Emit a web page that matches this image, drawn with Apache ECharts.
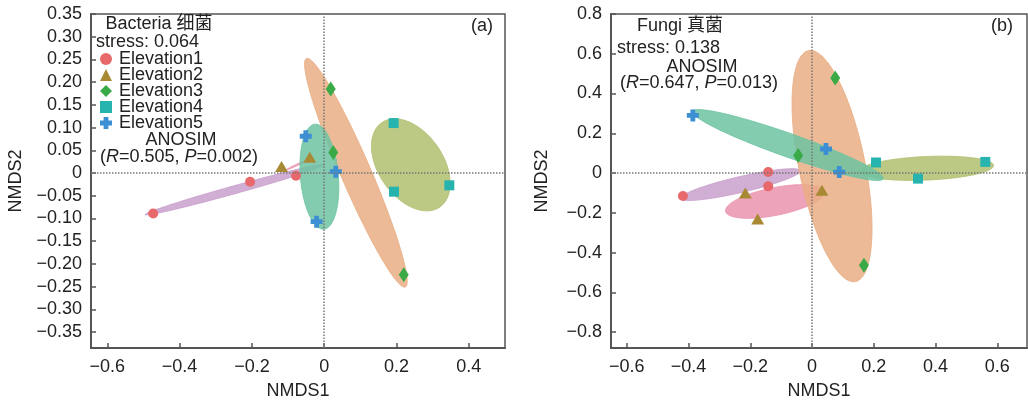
<!DOCTYPE html>
<html>
<head>
<meta charset="utf-8">
<script src="https://cdn.jsdelivr.net/npm/echarts@6/dist/echarts.min.js"></script>
<style>
  html, body { margin: 0; padding: 0; background: #fff; }
  #chart { width: 1028px; height: 405px; }
</style>
</head>
<body>
<div id="chart"></div>
<script>
// 分组名称
const groups = ['Elevation1', 'Elevation2', 'Elevation3', 'Elevation4', 'Elevation5'];

// (a) 细菌 NMDS 坐标
const bactE1 = [[-0.473, -0.089], [-0.205, -0.019], [-0.078, -0.006]];
const bactE2 = [[-0.118, 0.0145], [-0.040, 0.035]];
const bactE3 = [[0.018, 0.185], [0.025, 0.045], [0.220, -0.224]];
const bactE4 = [[0.192, 0.110], [0.193, -0.041], [0.346, -0.027]];
const bactE5 = [[-0.051, 0.081], [0.032, 0.003], [-0.021, -0.107]];

// (b) 真菌 NMDS 坐标
const fungE1 = [[-0.418, -0.115], [-0.142, 0.005], [-0.142, -0.067]];
const fungE2 = [[-0.216, -0.100], [-0.176, -0.231], [0.032, -0.087]];
const fungE3 = [[0.075, 0.478], [-0.045, 0.088], [0.168, -0.464]];
const fungE4 = [[0.207, 0.053], [0.343, -0.028], [0.561, 0.056]];
const fungE5 = [[-0.386, 0.290], [0.045, 0.121], [0.088, 0.005]];

// 置信椭圆：[中心x, 中心y, 半径向量1 x, y, 半径向量2 x, y]
const bactEllipses = [
  [-0.2467, -0.0364, 0.2486, 0.0551, 0.003, -0.0084],
  [-0.075, 0.018, 0.030, 0.011, 0.0009, -0.0016],
  [0.0876, 0.0007, 0.1367, -0.2516, 0.0381, 0.0129],
  [0.2395, 0.0181, 0.0796, -0.0932, 0.0743, 0.0397],
  [-0.0133, -0.008, 0.0124, -0.1155, 0.0522, 0.0035]
];
const fungEllipses = [
  [-0.232, -0.058, 0.194, 0.0698, 0.0058, -0.0389],
  [-0.120, -0.143, 0.160, 0.0499, 0.0091, -0.0683],
  [0.0647, 0.0349, 0.0699, -0.5818, 0.109, 0],
  [0.371, 0.0239, 0.2168, 0.014, 0, -0.0593],
  [-0.0783, 0.141, 0.309, -0.1695, 0.0128, 0.0553]
];

// 刻度
const bactXTicks = [-0.6, -0.4, -0.2, 0, 0.2, 0.4];
const bactYTicks = [-0.35, -0.30, -0.25, -0.20, -0.15, -0.10, -0.05, 0, 0.05, 0.10, 0.15, 0.20, 0.25, 0.30, 0.35];
const fungXTicks = [-0.6, -0.4, -0.2, 0, 0.2, 0.4, 0.6];
const fungYTicks = [-0.8, -0.6, -0.4, -0.2, 0, 0.2, 0.4, 0.6, 0.8];

const pointColors = ['#e8696b', '#a88a34', '#3aaa47', '#28b4ae', '#3b8fd2'];
const ellipseColors = ['#c9a0cc', '#ea93ae', '#e9ae84', '#b0c070', '#6dc3a2'];
const symbols = ['circle', 'triangle', 'diamond', 'rect', 'path://M3,0H7V3H10V7H7V10H3V7H0V3H3Z'];
const symbolSizes = [10, [13, 11], [10, 15], 10, 12];

const FONT = 'Liberation Sans, Arial, Noto Sans CJK SC, sans-serif';

function fmt(decimals) {
  return function(v) {
    if (Math.abs(v) < 1e-9) return '0';
    return v.toFixed(decimals).replace('-', '\u2212');
  };
}

function makeAxisX(gridIndex, min, max, ticks) {
  return {
    type: 'value', gridIndex: gridIndex, min: min, max: max,
    name: 'NMDS1', nameLocation: 'middle', nameGap: 34,
    nameTextStyle: { fontSize: 18, color: '#222', fontFamily: FONT },
    axisLine: { onZero: false, lineStyle: { color: '#555', width: 2 } },
    axisTick: { inside: true, length: 5, lineStyle: { color: '#555', width: 1.5 }, customValues: ticks },
    axisLabel: { fontSize: 18, color: '#222', fontFamily: FONT, margin: 10, customValues: ticks, formatter: fmt(1) },
    splitLine: { show: false }
  };
}

function makeAxisY(gridIndex, min, max, ticks, decimals, gap) {
  return {
    type: 'value', gridIndex: gridIndex, min: min, max: max,
    name: 'NMDS2', nameLocation: 'middle', nameGap: gap,
    nameTextStyle: { fontSize: 18, color: '#222', fontFamily: FONT },
    axisLine: { onZero: false, lineStyle: { color: '#555', width: 2 } },
    axisTick: { inside: true, length: 5, lineStyle: { color: '#555', width: 1.5 }, customValues: ticks },
    axisLabel: { fontSize: 18, color: '#222', fontFamily: FONT, margin: 9, customValues: ticks, formatter: fmt(decimals) },
    splitLine: { show: false }
  };
}

// 椭圆渲染
function ellipseSeries(ellipses, gridIndex, idx) {
  return {
    type: 'custom',
    xAxisIndex: gridIndex, yAxisIndex: gridIndex,
    z: 1, silent: true,
    data: [ellipses[idx]],
    renderItem: function(params, api) {
      const cx = api.value(0), cy = api.value(1);
      const ux = api.value(2), uy = api.value(3);
      const vx = api.value(4), vy = api.value(5);
      const pts = [];
      for (let i = 0; i < 120; i++) {
        const t = i / 120 * Math.PI * 2;
        const c = Math.cos(t), s = Math.sin(t);
        pts.push(api.coord([cx + ux * c + vx * s, cy + uy * c + vy * s]));
      }
      return {
        type: 'polygon',
        shape: { points: pts },
        style: { fill: ellipseColors[idx], opacity: 0.85, stroke: ellipseColors[idx], lineWidth: 1 }
      };
    }
  };
}

function scatterSeries(data, gridIndex, idx) {
  return {
    name: groups[idx], type: 'scatter',
    xAxisIndex: gridIndex, yAxisIndex: gridIndex,
    z: 3,
    symbol: symbols[idx], symbolSize: symbolSizes[idx],
    itemStyle: { color: pointColors[idx], opacity: 1 },
    data: data
  };
}

function zeroLines(gridIndex) {
  return {
    type: 'scatter', xAxisIndex: gridIndex, yAxisIndex: gridIndex,
    data: [], z: 2,
    markLine: {
      silent: true, symbol: 'none', label: { show: false },
      lineStyle: { type: 'dotted', color: '#777', width: 1.5 },
      data: [{ xAxis: 0 }, { yAxis: 0 }]
    }
  };
}

const bactPoints = [bactE1, bactE2, bactE3, bactE4, bactE5];
const fungPoints = [fungE1, fungE2, fungE3, fungE4, fungE5];

const series = [zeroLines(0), zeroLines(1)];
for (let i = 0; i < 5; i++) {
  series.push(ellipseSeries(bactEllipses, 0, i));
  series.push(ellipseSeries(fungEllipses, 1, i));
}
for (let i = 0; i < 5; i++) {
  series.push(scatterSeries(bactPoints[i], 0, i));
  series.push(scatterSeries(fungPoints[i], 1, i));
}

const txt = { fontSize: 18, fill: '#222', fontFamily: FONT };

function label(x, y, text, align) {
  return {
    type: 'text', x: x, y: y, z: 10,
    style: Object.assign({ text: text, align: align || 'left', verticalAlign: 'middle' }, txt)
  };
}

function statText(x, y, r, p) {
  return {
    type: 'text', x: x, y: y, z: 10,
    style: {
      text: '({i|R}=' + r + ', {i|P}=' + p + ')',
      verticalAlign: 'middle', fontSize: 18, fill: '#222', fontFamily: FONT,
      rich: { i: { fontStyle: 'italic', fontSize: 18, fill: '#222', fontFamily: FONT } }
    }
  };
}

const chart = echarts.init(document.getElementById('chart'));
chart.setOption({
  backgroundColor: '#fff',
  animation: false,
  grid: [
    { left: 91, top: 14, width: 414, height: 338, show: true, borderColor: '#555', borderWidth: 1.5, backgroundColor: 'transparent' },
    { left: 611, top: 14, width: 416, height: 338, show: true, borderColor: '#555', borderWidth: 1.5, backgroundColor: 'transparent' }
  ],
  xAxis: [
    makeAxisX(0, -0.645, 0.5, bactXTicks),
    makeAxisX(1, -0.651, 0.696, fungXTicks)
  ],
  yAxis: [
    makeAxisY(0, -0.385, 0.35, bactYTicks, 2, 66),
    makeAxisY(1, -0.88, 0.8, fungYTicks, 1, 60)
  ],
  legend: {
    data: groups,
    orient: 'vertical', left: 95, top: 45,
    itemWidth: 12, itemHeight: 12, itemGap: -2,
    textStyle: { fontSize: 18, color: '#222', fontFamily: FONT, padding: [0, 0, 0, 2] },
    selectedMode: false
  },
  graphic: [
    label(159, 24, 'Bacteria 细菌', 'center'),
    label(96, 42, 'stress: 0.064'),
    label(181, 140, 'ANOSIM', 'center'),
    statText(100, 157, '0.505', '0.002'),
    label(493, 26, '(a)', 'right'),
    label(680, 26, 'Fungi 真菌', 'center'),
    label(617, 48, 'stress: 0.138'),
    label(702, 67, 'ANOSIM', 'center'),
    statText(620, 83, '0.647', '0.013'),
    label(1013, 26, '(b)', 'right')
  ],
  series: series
});
</script>
</body>
</html>
